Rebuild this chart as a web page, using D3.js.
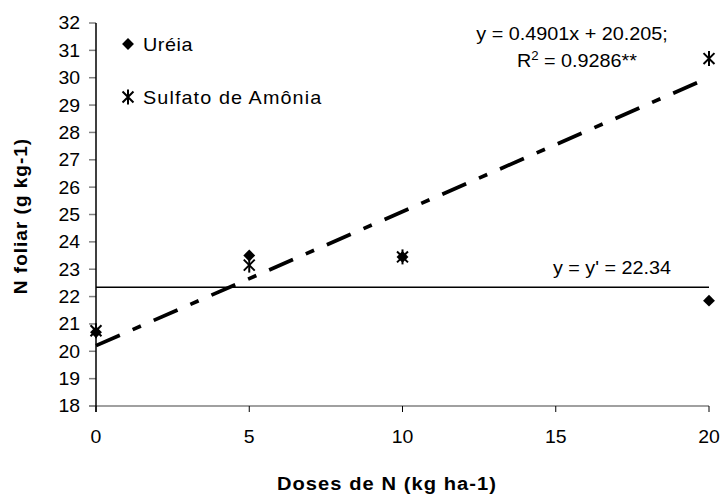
<!DOCTYPE html>
<html>
<head>
<meta charset="utf-8">
<script src="https://cdn.jsdelivr.net/npm/d3@7"></script>
<style>
  body { margin: 0; background: #fff; }
  svg text { font-family: "Liberation Sans", Arial, sans-serif; fill: #000; }
</style>
</head>
<body>
<div id="chart"></div>
<script>
// data
const doses = [0, 5, 10, 20];
const ureia = [20.7, 23.5, 23.45, 21.85];
const sulfato = [20.75, 23.15, 23.45, 30.7];
const xTicks = [0, 5, 10, 15, 20];
const yTicks = [18, 19, 20, 21, 22, 23, 24, 25, 26, 27, 28, 29, 30, 31, 32];
const fitSlope = 0.4901, fitIntercept = 20.205;
const meanValue = 22.34;

const W = 722, H = 495;
const margin = {top: 23, right: 13, bottom: 89, left: 96};
const width = W - margin.left - margin.right;
const height = H - margin.top - margin.bottom;

const svg = d3.select("#chart").append("svg")
  .attr("width", W)
  .attr("height", H);

const g = svg.append("g")
  .attr("transform", `translate(${margin.left},${margin.top})`);

const x = d3.scaleLinear().domain([0, 20]).range([0, width]);
const y = d3.scaleLinear().domain([18, 32]).range([height, 0]);

// x axis (gray line, black ticks below)
g.append("line")
  .attr("x1", -7).attr("x2", width)
  .attr("y1", y(18)).attr("y2", y(18))
  .attr("stroke", "#808080").attr("stroke-width", 1.5);

g.selectAll(".xtick")
  .data(xTicks)
  .enter().append("line")
  .attr("x1", d => x(d)).attr("x2", d => x(d))
  .attr("y1", height).attr("y2", height + 6)
  .attr("stroke", "#000");

g.selectAll(".xlab")
  .data(xTicks)
  .enter().append("text")
  .attr("transform", d => `translate(${x(d)},${height + 37}) scale(1.08,1)`)
  .attr("text-anchor", "middle")
  .style("font-size", "18px")
  .text(d => d);

// y axis
g.selectAll(".ytick")
  .data(yTicks)
  .enter().append("line")
  .attr("x1", -7).attr("x2", 0)
  .attr("y1", d => y(d)).attr("y2", d => y(d))
  .attr("stroke", "#808080").attr("stroke-width", 1.5);

g.append("line")
  .attr("x1", 0).attr("x2", 0)
  .attr("y1", 0).attr("y2", height + 6)
  .attr("stroke", "#000").attr("stroke-width", 1.5);

g.selectAll(".ylab")
  .data(yTicks)
  .enter().append("text")
  .attr("transform", d => `translate(-16,${y(d)}) scale(1.08,1)`)
  .attr("dy", "0.36em")
  .attr("text-anchor", "end")
  .style("font-size", "18px")
  .text(d => d);

// axis titles
svg.append("text")
  .attr("transform", `translate(387,490) scale(1.06,1)`)
  .attr("text-anchor", "middle")
  .style("font-size", "19px")
  .style("font-weight", "bold")
  .style("letter-spacing", "1px")
  .text("Doses de N (kg ha-1)");

svg.append("text")
  .attr("transform", `translate(27,216) rotate(-90)`)
  .attr("text-anchor", "middle")
  .style("font-size", "19px")
  .style("font-weight", "bold")
  .style("letter-spacing", "1px")
  .text("N foliar (g kg-1)");

// mean line for Uréia
g.append("line")
  .attr("x1", x(0)).attr("x2", x(20))
  .attr("y1", y(meanValue)).attr("y2", y(meanValue))
  .attr("stroke", "#000").attr("stroke-width", 1.3);

// fitted line for Sulfato
g.append("line")
  .attr("x1", x(0)).attr("x2", x(20))
  .attr("y1", y(fitIntercept)).attr("y2", y(fitIntercept + fitSlope * 20))
  .attr("stroke", "#000").attr("stroke-width", 3.7)
  .attr("stroke-dasharray", "26,14,9,14");

// markers
const diamond = d3.symbol().type(d3.symbolDiamond2).size(90);
g.selectAll(".ureia")
  .data(doses)
  .enter().append("path")
  .attr("d", diamond)
  .attr("transform", (d, i) => `translate(${x(d)},${y(ureia[i])})`)
  .attr("fill", "#000");

const star = d3.symbol().type(d3.symbolTimes).size(80);
function asterisk(sel) {
  sel.append("path").attr("d", star)
    .attr("fill", "none").attr("stroke", "#000").attr("stroke-width", 2);
  sel.append("line").attr("x1", 0).attr("x2", 0).attr("y1", -7.5).attr("y2", 7.5)
    .attr("stroke", "#000").attr("stroke-width", 2);
}
g.selectAll(".sulf")
  .data(doses)
  .enter().append("g")
  .attr("transform", (d, i) => `translate(${x(d)},${y(sulfato[i])})`)
  .call(asterisk);

// legend
const legend = svg.append("g");
legend.append("path")
  .attr("d", diamond)
  .attr("transform", "translate(128,44)")
  .attr("fill", "#000");
legend.append("text")
  .attr("transform", "translate(143,50.5) scale(1.1,1)")
  .style("font-size", "18px")
  .style("letter-spacing", "0.5px")
  .text("Uréia");
legend.append("g")
  .attr("transform", "translate(128,97)")
  .call(asterisk);
legend.append("text")
  .attr("transform", "translate(143,103.5) scale(1.1,1)")
  .style("font-size", "18px")
  .style("letter-spacing", "1px")
  .text("Sulfato de Amônia");

// equations
svg.append("text")
  .attr("transform", "translate(572,39.5) scale(1.1,1)")
  .attr("text-anchor", "middle")
  .style("font-size", "18px")
  .text("y = 0.4901x + 20.205;");

const r2 = svg.append("text")
  .attr("transform", "translate(637,67) scale(1.1,1)")
  .attr("text-anchor", "end")
  .style("font-size", "18px");
r2.append("tspan").text("R");
r2.append("tspan").attr("dy", -7).style("font-size", "12px").text("2");
r2.append("tspan").attr("dy", 7).text(" = 0.9286**");

svg.append("text")
  .attr("transform", "translate(612,274) scale(1.1,1)")
  .attr("text-anchor", "middle")
  .style("font-size", "18px")
  .text("y = y' = 22.34");
</script>
</body>
</html>
